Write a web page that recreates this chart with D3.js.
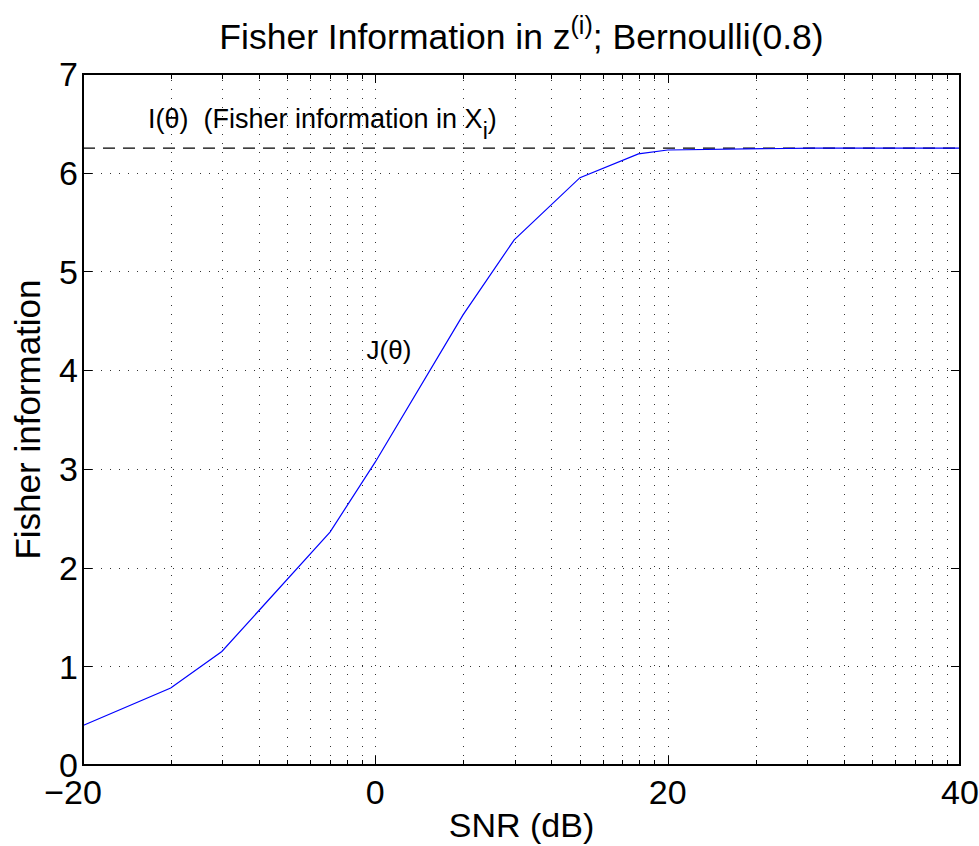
<!DOCTYPE html>
<html>
<head>
<meta charset="utf-8">
<script src="https://cdn.jsdelivr.net/npm/d3@7"></script>
<style>
	body { margin:0; background:#fff; }
	text { font-family: "Liberation Sans", Arial, Helvetica, sans-serif; fill:#000; white-space: pre; }
</style>
</head>
<body>
<svg id="svg" width="979" height="846"></svg>
<script>
// vertices of J(theta)
const snrDb   = [-20, -14, -10.5, -3.1, 0, 6, 9.5, 14, 18, 20, 30, 40];
const fisherJ = [0.40, 0.78, 1.15, 2.36, 3.07, 4.56, 5.32, 5.95, 6.19, 6.23, 6.25, 6.25];
// I(theta) = 1/(p(1-p)) for p = 0.8
const fisherI = 6.25;
const yTicks = [0, 1, 2, 3, 4, 5, 6, 7];
const xTickLabels = [-20, 0, 20, 40];

const dims = { width: 979, height: 846 };
const margins = { left: 83, right: 19, top: 74, bottom: 81 };

// the x axis is logarithmic in amplitude, labelled in dB
const amp = db => Math.pow(10, db / 20);
const x = d3.scaleLog()
	.domain([amp(-20), amp(40)])
	.range([margins.left, dims.width - margins.right]);
const y = d3.scaleLinear()
	.domain([0, 7])
	.range([dims.height - margins.bottom, margins.top]);

const svg = d3.select('#svg');
const x0 = margins.left, x1 = dims.width - margins.right;
const y0 = dims.height - margins.bottom, y1 = margins.top;

const isMajor = v => Math.abs(Math.log10(v) - Math.round(Math.log10(v))) < 1e-9;
const allX = x.ticks();

// GRID
const grid = svg.append('g')
	.attr('stroke', '#333')
	.attr('stroke-width', 1)
	.attr('stroke-dasharray', '1,8')
	.attr('shape-rendering', 'crispEdges');
grid.selectAll('.vg').data(allX.filter(v => v > amp(-20) + 1e-9 && v < amp(40) - 1e-9)).enter()
	.append('line')
	.attr('x1', d => Math.round(x(d)) + 0.5).attr('x2', d => Math.round(x(d)) + 0.5)
	.attr('y1', y0).attr('y2', y1);
grid.selectAll('.hg').data(yTicks.slice(1, -1)).enter()
	.append('line')
	.attr('y1', d => Math.round(y(d)) + 0.5).attr('y2', d => Math.round(y(d)) + 0.5)
	.attr('x1', x0).attr('x2', x1);

// I(theta) dashed line
svg.append('line')
	.attr('x1', x(amp(-20))).attr('x2', x(amp(40)))
	.attr('y1', y(fisherI)).attr('y2', y(fisherI))
	.attr('stroke', '#000')
	.attr('stroke-width', 1.2)
	.attr('stroke-dasharray', '12,8');

// J(theta) curve
const line = d3.line()
	.x((d, i) => x(amp(snrDb[i])))
	.y(d => y(d));
svg.append('path')
	.datum(fisherJ)
	.attr('d', line)
	.attr('fill', 'none')
	.attr('stroke', '#0000ff')
	.attr('stroke-width', 1.2);

// AXES box and inward ticks
const ax = svg.append('g').attr('stroke', '#000').attr('shape-rendering', 'crispEdges');
allX.forEach(v => {
	const len = isMajor(v) ? 9 : 5;
	const px = Math.round(x(v)) + 0.5;
	ax.append('line').attr('x1', px).attr('x2', px).attr('y1', y0).attr('y2', y0 - len);
	ax.append('line').attr('x1', px).attr('x2', px).attr('y1', y1).attr('y2', y1 + len);
});
yTicks.forEach(v => {
	const py = Math.round(y(v)) + 0.5;
	ax.append('line').attr('x1', x0).attr('x2', x0 + 9).attr('y1', py).attr('y2', py);
	ax.append('line').attr('x1', x1).attr('x2', x1 - 9).attr('y1', py).attr('y2', py);
});
ax.append('rect')
	.attr('x', x0).attr('y', y1)
	.attr('width', x1 - x0).attr('height', y0 - y1)
	.attr('fill', 'none')
	.attr('stroke-width', 1.6);

// tick labels
svg.append('g').selectAll('text').data(xTickLabels).enter()
	.append('text')
	.attr('x', d => x(amp(d)))
	.attr('dx', d => d < 0 ? -10 : 0)
	.attr('y', 804)
	.attr('text-anchor', 'middle')
	.attr('font-size', 34)
	.text(d => d < 0 ? '\u2212' + Math.abs(d) : d);
svg.append('g').selectAll('text').data(yTicks).enter()
	.append('text')
	.attr('x', x0 - 5)
	.attr('y', d => y(d))
	.attr('dy', '0.36em')
	.attr('text-anchor', 'end')
	.attr('font-size', 34)
	.text(d => d);

// axis titles
svg.append('text')
	.attr('x', (x0 + x1) / 2).attr('y', 837)
	.attr('text-anchor', 'middle')
	.attr('font-size', 34)
	.text('SNR (dB)');
svg.append('text')
	.attr('transform', `translate(40, ${(y0 + y1) / 2}) rotate(-90)`)
	.attr('text-anchor', 'middle')
	.attr('font-size', 35)
	.text('Fisher information');

// title
const title = svg.append('text')
	.attr('x', (x0 + x1) / 2).attr('y', 49)
	.attr('text-anchor', 'middle')
	.attr('font-size', 35.5);
title.append('tspan').text('Fisher Information in z');
title.append('tspan').attr('font-size', 25).attr('dy', -15).text('(i)');
title.append('tspan').attr('dy', 15).text('; Bernoulli(0.8)');

// annotations
const noteI = svg.append('text')
	.attr('x', x(amp(-15.55))).attr('y', 128)
	.attr('font-size', 27);
noteI.append('tspan').text('I(\u03b8)\u00a0\u00a0(Fisher information in X');
noteI.append('tspan').attr('font-size', 23).attr('dy', 11).text('i');
noteI.append('tspan').attr('dy', -11).text(')');

svg.append('text')
	.attr('x', x(amp(-0.6))).attr('y', 359)
	.attr('font-size', 26)
	.text('J(\u03b8)');
</script>
</body>
</html>
